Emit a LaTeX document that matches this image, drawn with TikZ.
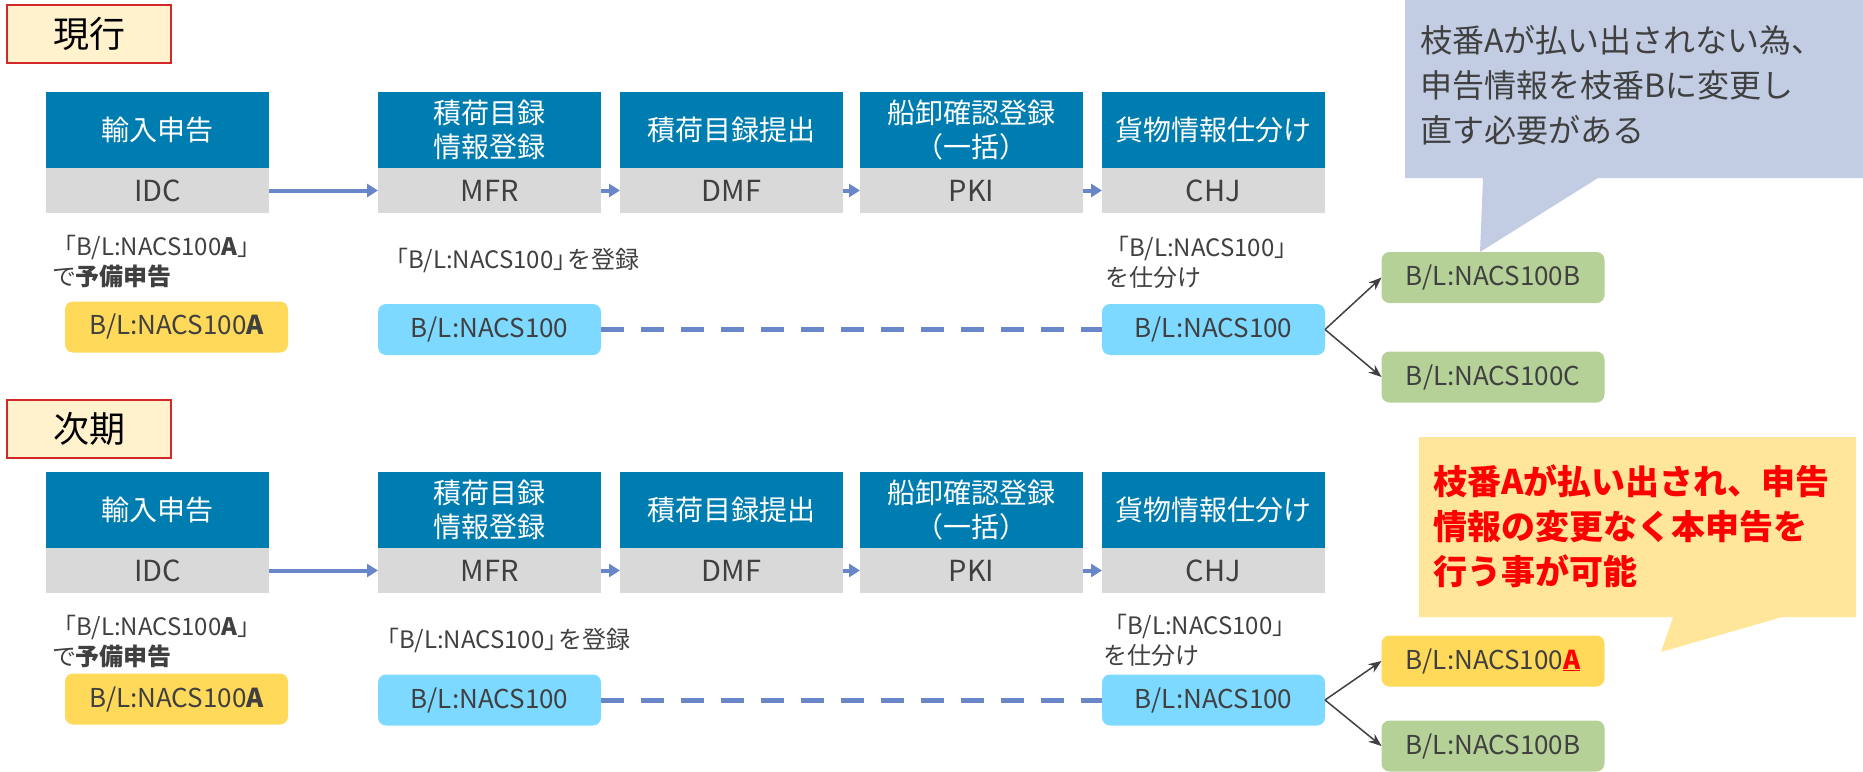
\documentclass[tikz,border=0pt]{standalone}
\usepackage{fontspec}
\setmainfont{Noto Sans CJK JP}
\usetikzlibrary{arrows.meta}

\definecolor{headblue}{RGB}{0,125,176}
\definecolor{codegray}{RGB}{217,217,217}
\definecolor{textgray}{RGB}{64,64,64}
\definecolor{flowblue}{RGB}{104,134,200}
\definecolor{blcyan}{RGB}{125,217,255}
\definecolor{blyellow}{RGB}{255,217,90}
\definecolor{blgreen}{RGB}{181,209,152}
\definecolor{tagfill}{RGB}{255,242,204}
\definecolor{tagred}{RGB}{210,40,40}
\definecolor{noteblue}{RGB}{194,205,228}
\definecolor{noteyellow}{RGB}{255,230,153}
\definecolor{alertred}{RGB}{255,0,0}

\begin{document}
\begin{tikzpicture}[x=1pt, y=-1pt,
    every node/.style={inner sep=0pt, outer sep=0pt, text=textgray},
    termtag/.style={fill=tagfill, draw=tagred, line width=2pt,
      minimum width=164pt, minimum height=58pt, text=black,
      font=\fontsize{36}{40}\selectfont},
    stephead/.style={fill=headblue, text=white, align=center,
      minimum width=223pt, minimum height=76pt,
      font=\fontsize{28}{34}\selectfont},
    stepcode/.style={fill=codegray, minimum width=223pt, minimum height=45pt,
      font=\fontsize{29}{34}\selectfont},
    blbox/.style={rounded corners=8pt, minimum width=223pt, minimum height=51pt,
      font=\fontsize{26}{30}\selectfont},
    remark/.style={anchor=west, align=left, font=\fontsize{24}{30}\selectfont},
    flowarrow/.style={draw=flowblue, line width=4pt, -{Triangle[length=11pt,width=13pt]}},
    dashlink/.style={draw=flowblue, line width=5pt, dash pattern=on 23pt off 17pt},
    forkarrow/.style={draw=textgray, line width=1.5pt, -{Stealth[length=13pt,width=10pt]}}
  ]
  \useasboundingbox (0,0) rectangle (1863,771);

  % current flow
  \node[termtag] (now) at (89,34) {現行};

  \node[stephead] (idcT) at (157.5,130) {輸入申告};
  \node[stepcode] (idc) at (157.5,190.5) {IDC};
  \node[stephead] (mfrT) at (489.5,130) {積荷目録\\情報登録};
  \node[stepcode] (mfr) at (489.5,190.5) {MFR};
  \node[stephead] (dmfT) at (731.5,130) {積荷目録提出};
  \node[stepcode] (dmf) at (731.5,190.5) {DMF};
  \node[stephead] (pkiT) at (971.5,130) {船卸確認登録\\（一括）};
  \node[stepcode] (pki) at (971.5,190.5) {PKI};
  \node[stephead] (chjT) at (1213.5,130) {貨物情報仕分け};
  \node[stepcode] (chj) at (1213.5,190.5) {CHJ};

  \draw[flowarrow] (idc) -- (mfr);
  \draw[flowarrow] (mfr) -- (dmf);
  \draw[flowarrow] (dmf) -- (pki);
  \draw[flowarrow] (pki) -- (chj);

  \node[remark] (preNote) at (52,262) {「B/L:NACS100\textbf{A}」\\で\textbf{予備申告}};
  \node[remark] (regNote) at (384,260) {「B/L:NACS100」\kern-.4em を登録};
  \node[remark] (sortNote) at (1105,262) {「B/L:NACS100」\\を仕分け};

  \node[blbox, fill=blyellow] (preBL) at (176.5,327) {B/L:NACS100\textbf{A}};
  \node[blbox, fill=blcyan] (regBL) at (489.5,329.5) {B/L:NACS100};
  \node[blbox, fill=blcyan] (sortBL) at (1213.5,329.5) {B/L:NACS100};
  \node[blbox, fill=blgreen] (subB) at (1493,277.5) {B/L:NACS100B};
  \node[blbox, fill=blgreen] (subC) at (1493,377) {B/L:NACS100C};

  \draw[dashlink] (regBL) -- (sortBL);
  \draw[forkarrow] (sortBL.east) -- (subB.west);
  \draw[forkarrow] (sortBL.east) -- (subC.west);

  \fill[noteblue] (1405,0) -- (1863,0) -- (1863,178) -- (1598,178)
    -- (1480,252) -- (1483,178) -- (1405,178) -- cycle;
  \node[anchor=north west, align=left, font=\fontsize{32}{45}\selectfont] (nowNote)
    at (1420,25) {枝番Aが払い出されない為、\\申告情報を枝番Bに変更し\\直す必要がある};

  % next flow
  \node[termtag] (next) at (89,428.5) {次期};

  \node[stephead] (idcT2) at (157.5,510) {輸入申告};
  \node[stepcode] (idc2) at (157.5,570.5) {IDC};
  \node[stephead] (mfrT2) at (489.5,510) {積荷目録\\情報登録};
  \node[stepcode] (mfr2) at (489.5,570.5) {MFR};
  \node[stephead] (dmfT2) at (731.5,510) {積荷目録提出};
  \node[stepcode] (dmf2) at (731.5,570.5) {DMF};
  \node[stephead] (pkiT2) at (971.5,510) {船卸確認登録\\（一括）};
  \node[stepcode] (pki2) at (971.5,570.5) {PKI};
  \node[stephead] (chjT2) at (1213.5,510) {貨物情報仕分け};
  \node[stepcode] (chj2) at (1213.5,570.5) {CHJ};

  \draw[flowarrow] (idc2) -- (mfr2);
  \draw[flowarrow] (mfr2) -- (dmf2);
  \draw[flowarrow] (dmf2) -- (pki2);
  \draw[flowarrow] (pki2) -- (chj2);

  \node[remark] (preNote2) at (52,642) {「B/L:NACS100\textbf{A}」\\で\textbf{予備申告}};
  \node[remark] (regNote2) at (375,640) {「B/L:NACS100」\kern-.4em を登録};
  \node[remark] (sortNote2) at (1103,640) {「B/L:NACS100」\\を仕分け};

  \node[blbox, fill=blyellow] (preBL2) at (176.5,699) {B/L:NACS100\textbf{A}};
  \node[blbox, fill=blcyan] (regBL2) at (489.5,700) {B/L:NACS100};
  \node[blbox, fill=blcyan] (sortBL2) at (1213.5,700) {B/L:NACS100};
  \node[blbox, fill=blyellow] (subA2) at (1493,661)
    {B/L:NACS100\textcolor{alertred}{\textbf{\underline{A}}}};
  \node[blbox, fill=blgreen] (subB2) at (1493,746) {B/L:NACS100B};

  \draw[dashlink] (regBL2) -- (sortBL2);
  \draw[forkarrow] (sortBL2.east) -- (subA2.west);
  \draw[forkarrow] (sortBL2.east) -- (subB2.west);

  \fill[noteyellow] (1419,437) -- (1856,437) -- (1856,617) -- (1782,617)
    -- (1661,652) -- (1673,617) -- (1419,617) -- cycle;
  \node[anchor=north west, align=left, text=alertred,
    font=\bfseries\fontsize{34}{45}\selectfont] (nextNote)
    at (1433,465) {枝番Aが払い出され、申告\\情報の変更なく本申告を\\行う事が可能};
\end{tikzpicture}
\end{document}
